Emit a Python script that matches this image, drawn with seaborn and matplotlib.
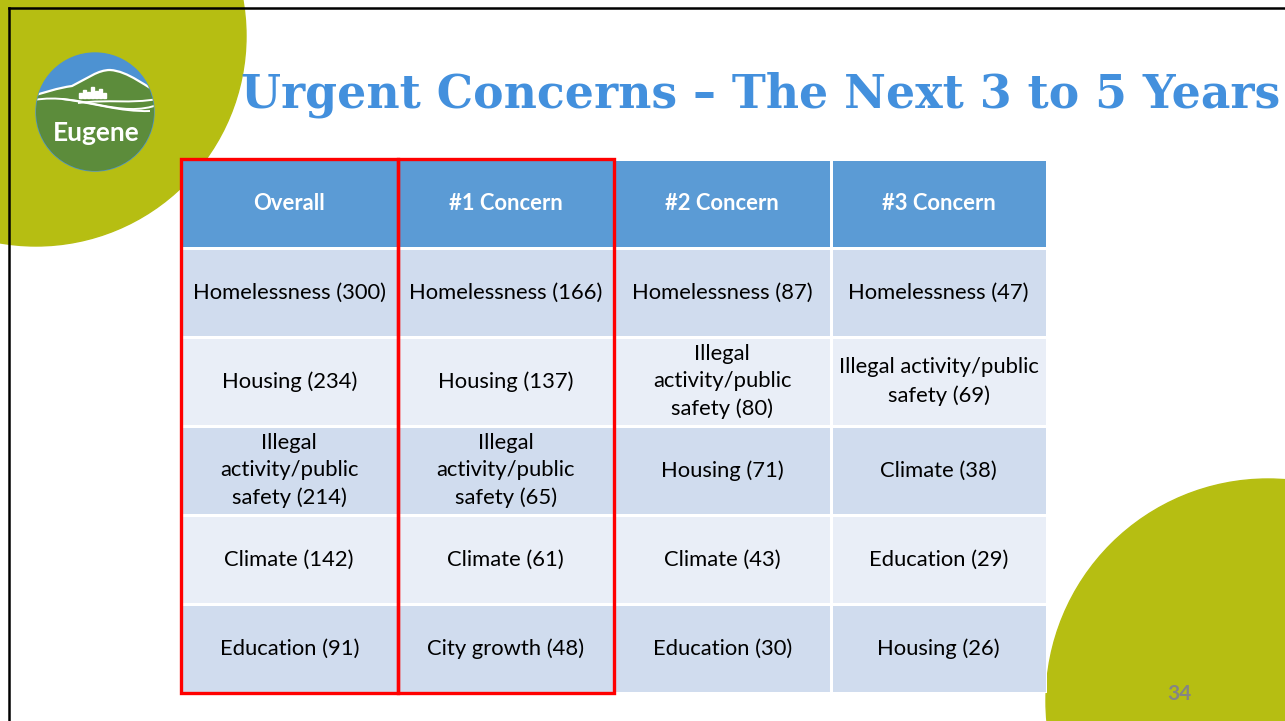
import numpy as np
import matplotlib
matplotlib.use("Agg")
import matplotlib.pyplot as plt
from matplotlib.colors import ListedColormap
from matplotlib.patches import Circle, Rectangle, PathPatch
from matplotlib.path import Path
import seaborn as sns

# ---- data ----
title = "Urgent Concerns \u2013 The Next 3 to 5 Years"
columns = ["Overall", "#1 Concern", "#2 Concern", "#3 Concern"]
overall = ["Homelessness (300)", "Housing (234)", "Illegal\nactivity/public\nsafety (214)",
           "Climate (142)", "Education (91)"]
concern1 = ["Homelessness (166)", "Housing (137)", "Illegal\nactivity/public\nsafety (65)",
            "Climate (61)", "City growth (48)"]
concern2 = ["Homelessness (87)", "Illegal\nactivity/public\nsafety (80)", "Housing (71)",
            "Climate (43)", "Education (30)"]
concern3 = ["Homelessness (47)", "Illegal activity/public\nsafety (69)", "Climate (38)",
            "Education (29)", "Housing (26)"]
highlighted = ["Overall", "#1 Concern"]
page_number = "34"

HEADER = "#5B9BD5"
DARK = "#D0DCEE"
LIGHT = "#E9EEF7"
OLIVE = "#B6BE12"
TITLE_BLUE = "#4390DD"

W, H = 1285, 721
fig = plt.figure(figsize=(W / 100, H / 100), dpi=100)
fig.patch.set_facecolor("white")

# background layer in pixel coordinates
bg = fig.add_axes([0, 0, 1, 1])
bg.set_xlim(0, W)
bg.set_ylim(H, 0)
bg.axis("off")

bg.add_patch(Circle((36, 36), 210, color=OLIVE, zorder=0))
bg.add_patch(Circle((1268, 701), 222, color=OLIVE, zorder=0))
bg.plot([9, 9], [8, H], color="black", lw=1.8, zorder=1)
bg.plot([9, W], [8, 8], color="black", lw=1.8, zorder=1)

# Eugene logo
logo = Circle((95, 112), 59, color="#4D92D2", zorder=2)
bg.add_patch(logo)
hill = Path([(20, 100), (45, 92), (58, 88), (72, 86), (88, 78), (98, 70), (110, 70),
             (128, 71), (145, 86), (170, 100), (170, 190), (20, 190), (20, 100)],
            [Path.MOVETO, Path.CURVE4, Path.CURVE4, Path.CURVE4, Path.CURVE4, Path.CURVE4,
             Path.CURVE4, Path.CURVE4, Path.CURVE4, Path.CURVE4, Path.LINETO, Path.LINETO,
             Path.CLOSEPOLY])
hp = PathPatch(hill, facecolor="#5C8C3B", edgecolor="white", lw=1.6, zorder=3)
bg.add_patch(hp)
hp.set_clip_path(logo)
for pts in [[(34, 100), (80, 92), (120, 120), (160, 104)],
            [(62, 99), (95, 103), (120, 112), (150, 111)],
            [(78, 103), (110, 99), (130, 104), (157, 99)]]:
    ln = PathPatch(Path(pts, [Path.MOVETO, Path.CURVE4, Path.CURVE4, Path.CURVE4]),
                   facecolor="none", edgecolor="white", lw=1.4, zorder=4)
    bg.add_patch(ln)
    ln.set_clip_path(logo)
for x0, h in [(79, 5), (83, 8), (87, 6), (91, 11), (95, 7), (99, 9), (103, 5)]:
    bg.add_patch(Rectangle((x0, 98 - h), 3, h, color="white", zorder=4))
bg.text(96, 133, "Eugene", color="white", fontsize=19, fontweight="bold",
        family=["Lato", "DejaVu Sans"], ha="center", va="center", zorder=5)

# title, sized so it spans the same width as on the slide
ttl = bg.text(241, 108, title, color=TITLE_BLUE, fontsize=36, fontweight="bold",
              family=["DejaVu Serif"], ha="left", va="baseline", zorder=5)
renderer = fig.canvas.get_renderer()
tw = ttl.get_window_extent(renderer).width
ttl.set_fontsize(36 * 1037 / tw)

bg.text(1179, 694, page_number, color="#858585", fontsize=15, fontweight="bold",
        family=["Lato", "DejaVu Sans"], ha="center", va="center", zorder=5)

# ---- table as a seaborn heatmap ----
labels = np.array([columns] + [list(r) for r in zip(overall, concern1, concern2, concern3)])
shade = np.zeros(labels.shape)
for i in range(1, labels.shape[0]):
    shade[i, :] = 1 if i % 2 == 1 else 2

tx0, ty0, tx1, ty1 = 181, 159, 1047, 693
ax = fig.add_axes([tx0 / W, 1 - ty1 / H, (tx1 - tx0) / W, (ty1 - ty0) / H])
sns.heatmap(shade, cmap=ListedColormap([HEADER, DARK, LIGHT]), vmin=-0.5, vmax=2.5,
            cbar=False, annot=labels, fmt="", linewidths=2, linecolor="white",
            xticklabels=False, yticklabels=False, ax=ax,
            annot_kws=dict(fontsize=15.8, color="black", family=["Lato", "DejaVu Sans"],
                           linespacing=1.45))
for k, t in enumerate(ax.texts):
    if k < labels.shape[1]:
        t.set_color("white")
        t.set_fontweight("bold")

for name in highlighted:
    j = columns.index(name)
    ax.add_patch(Rectangle((j, 0), 1, labels.shape[0], fill=False, edgecolor="#FF0000",
                           lw=2.4, clip_on=False, zorder=10))

fig.savefig("out.png", dpi=100)
